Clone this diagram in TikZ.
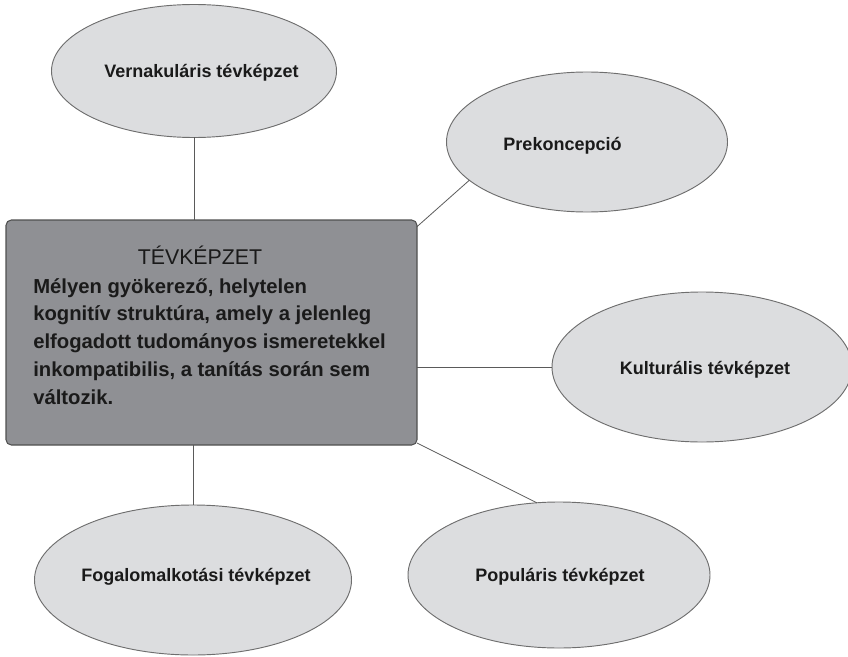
\documentclass[tikz,border=0pt]{standalone}
\usepackage{fontspec}
\setmainfont{Liberation Sans}
\usetikzlibrary{shapes.geometric}
\definecolor{edgegray}{HTML}{6E6E6E}
\definecolor{bubblefill}{HTML}{DCDDDF}
\definecolor{boxfill}{HTML}{8F9094}
\definecolor{boxedge}{HTML}{505050}
\definecolor{linegray}{HTML}{5A5A5A}
\definecolor{textdark}{HTML}{1A1A1A}
\begin{document}
\begin{tikzpicture}[x=0.75pt,y=-0.75pt,
  bubble/.style={ellipse, draw=edgegray, fill=bubblefill, line width=0.7pt, inner sep=0pt, outer sep=0pt},
  lbl/.style={font=\fontsize{13.5}{16}\selectfont\bfseries, text=textdark, inner sep=0pt},
  conn/.style={draw=linegray, line width=0.6pt},
  mainbox/.style={rectangle, rounded corners=4pt, draw=boxedge, fill=boxfill, line width=0.8pt, inner sep=0pt, outer sep=0pt},
]
\useasboundingbox (0,0) rectangle (848,656);

% bubbles
\node[bubble, minimum width=213.75pt, minimum height=99.75pt] (vern) at (194,71) {};
\node[bubble, minimum width=210.75pt, minimum height=105pt] (prek) at (587,142) {};
\node[bubble, minimum width=225pt, minimum height=112.5pt] (kult) at (702,367) {};
\node[bubble, minimum width=237.75pt, minimum height=112.5pt] (fog) at (193,580) {};
\node[bubble, minimum width=226.5pt, minimum height=109.5pt] (pop) at (559,575) {};

% main box
\node[mainbox, minimum width=308.25pt, minimum height=168.75pt] (main) at (211.5,332.5) {};

% connectors
\draw[conn] (vern.south) -- (vern.south |- main.north);
\draw[conn] ([yshift=-5pt]main.north east) -- (prek.198);
\draw[conn] (kult.west -| main.east) -- (kult.west);
\draw[conn] (fog.north |- main.south) -- (fog.north);
\draw[conn] ([yshift=1.5pt]main.south east) -- (pop.107);

% labels
\node[lbl] (vernt) at (201.5,73) {Vernakuláris tévképzet};
\node[lbl] (prekt) at (562.5,146) {Prekoncepció};
\node[lbl] (kultt) at (705,370) {Kulturális tévképzet};
\node[lbl] (fogt) at (196,577) {Fogalomalkotási tévképzet};
\node[lbl] (popt) at (560,577) {Populáris tévképzet};

% main text
\node[font=\fontsize{16}{19}\selectfont, text=textdark, anchor=base, inner sep=0pt] (title) at (200,264) {TÉVKÉPZET};
\node[font=\fontsize{15.2}{20.8}\selectfont\bfseries, text=textdark, align=left, anchor=base west, inner sep=0pt] (body) at (33,404)
  {Mélyen gyökerező, helytelen\\kognitív struktúra, amely a jelenleg\\elfogadott tudományos ismeretekkel\\inkompatibilis, a tanítás során sem\\változik.};
\end{tikzpicture}
\end{document}
